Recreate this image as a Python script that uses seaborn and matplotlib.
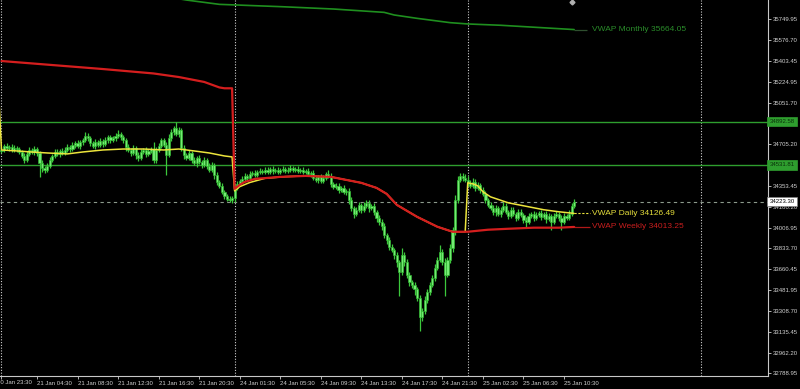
import numpy as np
import pandas as pd
import matplotlib
matplotlib.use("Agg")
import matplotlib.pyplot as plt
import matplotlib.transforms as mtrans
import seaborn as sns

# ---------------- data ----------------
first_open = 34650
closes = [
    34657, 34690, 34674, 34682, 34657, 34674, 34665, 34640, 34607, 34574,
    34624, 34657, 34640, 34665, 34632, 34549, 34507, 34490, 34524, 34574,
    34607, 34640, 34624, 34649, 34632, 34657, 34682, 34665, 34699, 34715,
    34690, 34724, 34740, 34774, 34757, 34715, 34690, 34724, 34699, 34732,
    34707, 34740, 34765, 34740, 34757, 34774, 34790, 34765, 34740, 34682,
    34657, 34632, 34674, 34615, 34590, 34640, 34657, 34624, 34649, 34665,
    34574, 34657, 34690, 34740, 34699, 34615, 34757, 34807, 34840, 34790,
    34824, 34674, 34615, 34590, 34632, 34574, 34549, 34590, 34557, 34532,
    34574, 34524, 34490, 34532, 34448, 34390, 34357, 34307, 34273, 34248,
    34240, 34257, 34340, 34374, 34398, 34415, 34440, 34423, 34457, 34465,
    34448, 34474, 34482, 34474, 34490, 34474, 34499, 34482, 34490, 34474,
    34490, 34499, 34482, 34490, 34507, 34490, 34499, 34482, 34490, 34474,
    34482, 34457, 34465, 34423, 34407, 34432, 34398, 34423, 34457, 34440,
    34374, 34348, 34357, 34323, 34340, 34307, 34315, 34240, 34173, 34123,
    34157, 34198, 34157, 34190, 34215, 34173, 34190, 34140, 34090, 34057,
    34023, 33948, 33906, 33848, 33823, 33781, 33723, 33640, 33781, 33723,
    33615, 33556, 33531, 33490, 33423, 33256, 33306, 33406, 33473, 33531,
    33590, 33673, 33740, 33806, 33723, 33615, 33740, 33840, 33990, 34240,
    34407, 34440, 34423, 34407, 34382, 34357, 34390, 34340, 34365, 34323,
    34290, 34240, 34198, 34173, 34140, 34173, 34123, 34157, 34190, 34140,
    34107, 34157, 34123, 34090, 34140, 34115, 34073, 34057, 34107, 34123,
    34090, 34115, 34132, 34098, 34123, 34082, 34107, 34057, 34107, 34123,
    34090, 34057, 34107, 34090, 34123, 34190, 34223.30,
]
upper_wick = [
    25, 17, 25, 17, 21, 25, 17, 21, 17, 25,
    25, 21, 17, 25, 17, 17, 21, 17, 25, 21,
    17, 25, 25, 17, 21, 25, 21, 17, 25, 21,
    25, 17, 21, 33, 21, 17, 21, 25, 17, 21,
    17, 25, 21, 17, 21, 25, 33, 17, 21, 17,
    21, 17, 25, 17, 21, 25, 17, 21, 17, 21,
    58, 21, 25, 21, 17, 21, 33, 25, 21, 50,
    25, 17, 21, 17, 25, 17, 21, 17, 21, 17,
    25, 17, 21, 25, 17, 21, 17, 21, 17, 17,
    21, 17, 33, 21, 17, 21, 25, 17, 21, 17,
    21, 17, 21, 17, 25, 21, 17, 21, 17, 25,
    17, 21, 17, 21, 25, 17, 17, 21, 17, 21,
    17, 21, 17, 25, 21, 17, 21, 25, 17, 33,
    21, 17, 25, 21, 17, 21, 17, 25, 21, 17,
    25, 21, 17, 33, 25, 21, 17, 25, 17, 21,
    21, 25, 17, 21, 25, 17, 21, 17, 58, 25,
    21, 25, 17, 21, 17, 25, 33, 33, 21, 25,
    21, 33, 25, 58, 21, 33, 25, 33, 25, 42,
    33, 25, 25, 33, 33, 25, 33, 21, 25, 17,
    21, 25, 17, 21, 25, 21, 17, 25, 33, 21,
    17, 25, 21, 17, 25, 21, 17, 21, 25, 17,
    21, 25, 17, 21, 17, 25, 21, 17, 25, 21,
    17, 21, 25, 17, 33, 21, 25,
]
lower_wick = [
    21, 17, 21, 25, 17, 21, 25, 17, 21, 25,
    17, 21, 17, 21, 25, 117, 33, 25, 21, 17,
    21, 17, 21, 25, 17, 21, 17, 21, 17, 25,
    17, 21, 25, 17, 21, 25, 17, 21, 17, 21,
    25, 17, 21, 25, 17, 21, 17, 21, 25, 33,
    21, 25, 17, 33, 25, 21, 17, 25, 21, 17,
    25, 25, 21, 17, 21, 167, 17, 21, 25, 17,
    21, 25, 33, 21, 17, 25, 21, 33, 17, 25,
    21, 25, 17, 21, 33, 25, 21, 17, 25, 17,
    21, 25, 33, 21, 17, 21, 17, 21, 17, 21,
    17, 21, 17, 21, 17, 21, 17, 25, 17, 21,
    21, 17, 21, 17, 17, 21, 17, 21, 17, 21,
    17, 21, 25, 17, 21, 25, 17, 21, 17, 21,
    25, 21, 17, 25, 21, 17, 25, 33, 25, 33,
    21, 17, 25, 21, 17, 33, 21, 25, 33, 25,
    33, 25, 33, 25, 21, 33, 42, 208, 25, 33,
    25, 33, 25, 42, 33, 117, 33, 25, 33, 25,
    21, 25, 21, 17, 25, 183, 21, 25, 33, 42,
    25, 21, 25, 21, 25, 21, 17, 25, 21, 25,
    21, 25, 21, 17, 25, 33, 21, 25, 17, 21,
    25, 21, 17, 25, 21, 17, 25, 50, 21, 17,
    25, 21, 17, 25, 21, 33, 21, 67, 17, 21,
    25, 67, 21, 17, 21, 17, 17,
]

daily_idx = [-1, 0, 6, 12, 18, 26, 32, 40, 48, 56, 64, 70, 76, 82, 88, 91,
             92, 94, 98, 104, 112, 120, 130, 136, 142, 148, 152, 156, 164, 172, 178, 183,
             184, 186, 188, 190, 193, 200, 208, 214, 220, 226]
daily_vwap = [35075, 34657, 34649, 34640, 34632, 34624, 34640, 34657, 34665, 34665, 34657,
              34665, 34649, 34632, 34607, 34599,
              34315, 34350, 34385, 34420, 34434, 34440, 34432, 34407, 34382, 34340, 34290,
              34198, 34098, 34015, 33973, 33973,
              34382, 34374, 34357, 34307, 34265, 34215, 34182, 34157, 34140, 34126.49]

weekly_idx = [0, 40, 60, 70, 80, 86, 88, 91, 92, 94, 96, 100, 110, 120, 130, 136, 142,
              148, 152, 156, 164, 172, 178, 184, 192, 200, 210, 220, 226]
weekly_vwap = [35401, 35334, 35297, 35267, 35226, 35180, 35173, 35173, 34332, 34365, 34390,
               34415, 34432, 34440, 34432, 34407, 34382, 34340, 34290, 34198, 34098, 34015,
               33973, 33973, 33990, 33998, 34007, 34007, 34013.25]

monthly_idx = [0, 40, 73, 86, 111, 131, 151, 155, 164, 177, 184, 197, 226]
monthly_vwap = [36162, 36028, 35911, 35875, 35855, 35836, 35808, 35786, 35758, 35722,
                35711, 35700, 35664.05]

level_lines = [34892.58, 34531.81]
bid_price = 34223.30
day_separators = [0, 92, 184, 276]
marker_idx = [225]
marker_price = [35895]

ytick_values = [35749.95, 35576.70, 35403.45, 35224.95, 35051.70, 34878.45, 34705.20,
                34531.95, 34353.45, 34180.20, 34006.95, 33833.70, 33660.45, 33481.95,
                33308.70, 33135.45, 32962.20, 32788.95]
xtick_idx = [14, 30, 46, 62, 78, 94, 110, 126, 142, 158, 174, 190, 206, 222]
xtick_labels = ["21 Jan 04:30", "21 Jan 08:30", "21 Jan 12:30", "21 Jan 16:30",
                "21 Jan 20:30", "24 Jan 01:30", "24 Jan 05:30", "24 Jan 09:30",
                "24 Jan 13:30", "24 Jan 17:30", "24 Jan 21:30", "25 Jan 02:30",
                "25 Jan 06:30", "25 Jan 10:30"]
first_label = "20 Jan 23:30"

# ---------------- style ----------------
sns.set_style("dark", {"axes.facecolor": "black", "figure.facecolor": "black"})
plt.rcParams['font.family'] = ['Liberation Sans', 'DejaVu Sans']

fig = plt.figure(figsize=(8, 3.89), dpi=100)
fig.patch.set_facecolor('black')
ax = fig.add_axes([0, 13 / 389, 768 / 800, 376 / 389])
ax.set_facecolor('black')

# separators, levels, bid line
for s in day_separators:
    ax.axvline(s, color='#d0d0d0', ls=(0, (1, 1.5)), lw=0.8, zorder=1)
for lv in level_lines:
    ax.axhline(lv, color='#2e9e2e', lw=1.0, zorder=2)
ax.axhline(bid_price, color='#8c9a8c', ls=(0, (3, 3)), lw=0.8, zorder=2)

# candles
c = np.array(closes, dtype=float)
o = np.array([first_open] + closes[:-1], dtype=float)
hi = np.maximum(o, c) + np.array(upper_wick)
lo = np.minimum(o, c) - np.array(lower_wick)
idx = np.arange(len(c))
ax.vlines(idx, lo, hi, color='#3cc83c', lw=0.9, zorder=3)
ax.bar(idx, c - o, bottom=o, width=0.85, color='#74ea74', edgecolor='#2fbb2f',
       linewidth=0.45, zorder=4)

# VWAP lines
sns.lineplot(x=monthly_idx, y=monthly_vwap, ax=ax, color='#1f8f1f', lw=1.2,
             estimator=None, sort=False, zorder=5)
sns.lineplot(x=daily_idx, y=daily_vwap, ax=ax, color='#ece43c', lw=1.1,
             estimator=None, sort=False, zorder=6)
sns.lineplot(x=weekly_idx, y=weekly_vwap, ax=ax, color='#d41e1e', lw=1.6,
             estimator=None, sort=False, zorder=7)

# extensions + labels
end_i = daily_idx[-1]
ax.hlines(daily_vwap[-1], end_i, end_i + 6.3, color='#ece43c', lw=0.8, ls=(0, (2, 1.5)), zorder=6)
ax.hlines(weekly_vwap[-1], end_i, end_i + 6.3, color='#b01818', lw=0.9, zorder=6)
ax.hlines(monthly_vwap[-1], end_i, end_i + 5.0, color='#2f4f2f', lw=0.9, zorder=6)
ax.text(end_i + 7, daily_vwap[-1], f"VWAP Daily {daily_vwap[-1]:.2f}", color='#e6df3c',
        fontsize=6, va='center', ha='left', zorder=8)
ax.text(end_i + 7, weekly_vwap[-1], f"VWAP Weekly {weekly_vwap[-1]:.2f}", color='#c81e1e',
        fontsize=6, va='center', ha='left', zorder=8)
ax.text(end_i + 7, monthly_vwap[-1], f"VWAP Monthly {monthly_vwap[-1]:.2f}", color='#2a8c2a',
        fontsize=6, va='center', ha='left', zorder=8)

ax.plot(marker_idx, marker_price, marker='D', ms=2.5, color='#b0b0b0', ls='none', zorder=8)

# axes
ax.set_xlim(-0.59, 302.5)
ax.set_ylim(32766.5, 35911.4)
ax.set_xlabel('')
ax.set_ylabel('')
ax.grid(False)
for side in ['top', 'left']:
    ax.spines[side].set_visible(False)
for side in ['right', 'bottom']:
    ax.spines[side].set_visible(True)
    ax.spines[side].set_color('#c8c8c8')
    ax.spines[side].set_linewidth(0.8)

ax.yaxis.tick_right()
ax.set_yticks(ytick_values)
ax.set_yticklabels([f"{v:.2f}" for v in ytick_values])
ax.tick_params(axis='y', colors='#d0d0d0', labelsize=4.3, length=2, width=0.6,
               pad=1.5, direction='out', right=True, left=False)
ax.set_xticks([0] + xtick_idx)
ax.set_xticklabels([''] + xtick_labels)
for lab in ax.get_xticklabels():
    lab.set_horizontalalignment('left')
ax.tick_params(axis='x', colors='#d0d0d0', labelsize=4.3, length=2.5, width=0.6,
               pad=1, direction='out', bottom=True)

trans_x = mtrans.blended_transform_factory(ax.transData, ax.transAxes)
ax.text(-1.9, 0, first_label, color='#d0d0d0', fontsize=4.3, ha='left', va='top',
        transform=trans_x + mtrans.ScaledTranslation(0, -4.3 / 100, fig.dpi_scale_trans),
        clip_on=False)

# price boxes on the axis
trans_y = mtrans.blended_transform_factory(ax.transAxes, ax.transData)
for lv in level_lines:
    ax.text(1.002, lv, f"{lv:.2f}", transform=trans_y, fontsize=4.3, color='#0a300a',
            va='center', ha='left', zorder=20, clip_on=False,
            bbox=dict(boxstyle='square,pad=0.35', fc='#2e9e2e', ec='#2e9e2e', lw=0.5))
ax.text(1.002, bid_price, f"{bid_price:.2f}", transform=trans_y, fontsize=4.3, color='black',
        va='center', ha='left', zorder=20, clip_on=False,
        bbox=dict(boxstyle='square,pad=0.35', fc='white', ec='#808080', lw=0.5))

fig.savefig('out.png', dpi=100, facecolor='black')
